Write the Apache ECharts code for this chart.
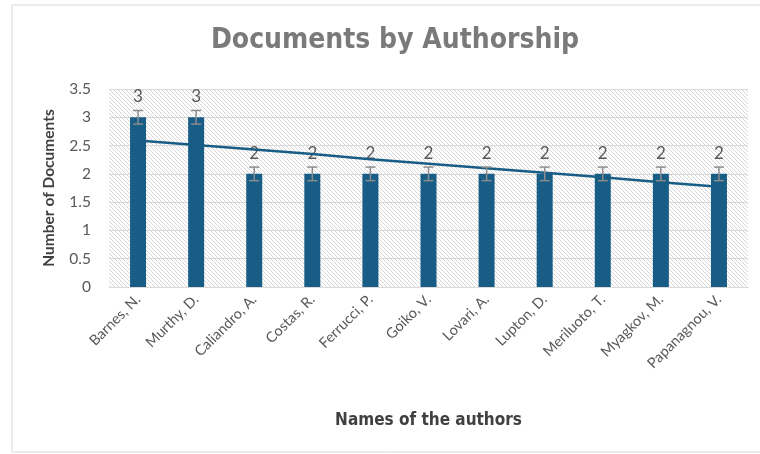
<!DOCTYPE html>
<html><head><meta charset="utf-8">
<script src="https://cdn.jsdelivr.net/npm/echarts@6/dist/echarts.min.js"></script>
<style>html,body{margin:0;padding:0;background:#fff;}#c{width:760px;height:454px;}</style>
</head><body><div id="c"></div>
<script>
var authors = ['Barnes, N.','Murthy, D.','Caliandro, A.','Costas, R.','Ferrucci, P.','Goiko, V.','Lovari, A.','Lupton, D.','Meriluoto, T.','Myagkov, M.','Papanagnou, V.'];
var documents = [3,3,2,2,2,2,2,2,2,2,2];
var errors = [0.12,0.12,0.12,0.12,0.12,0.12,0.12,0.12,0.12,0.12,0.12];
var trend = [2.59,2.51,2.43,2.35,2.26,2.18,2.10,2.02,1.94,1.85,1.77];
var yTicks = {min:0,max:3.5,interval:0.5};

var pc = document.createElement('canvas');
var s = 4; pc.width = s; pc.height = s;
var g = pc.getContext('2d');
g.fillStyle = '#ffffff'; g.fillRect(0,0,s,s);
g.strokeStyle = '#d6d6d6'; g.lineWidth = 1;
for (var k=-1;k<=1;k++){ g.beginPath(); g.moveTo(k*s,0); g.lineTo(k*s+s,s); g.stroke(); }

var chart = echarts.init(document.getElementById('c'));
var errData = documents.map(function(v,i){return [i, v-errors[i], v+errors[i]];});
chart.setOption({
  animation:false,
  backgroundColor:'#ffffff',
  title:{text:'Documents by Authorship',left:390,textAlign:'center',top:22,
    textStyle:{fontFamily:'Liberation Sans Narrow, DejaVu Sans Condensed, Arial',fontSize:28,fontWeight:'bold',color:'#7a7a7a'}},
  graphic:[{type:'rect',shape:{x:12,y:5,width:760,height:447},style:{fill:'none',stroke:'#d9d9d9',lineWidth:1},silent:true,z:-1}],
  grid:{left:109,right:12,top:89,bottom:167,show:true,borderWidth:0,
    backgroundColor:{image:pc,repeat:'repeat'}},
  xAxis:{type:'category',data:authors,
    axisLine:{lineStyle:{color:'#d9d9d9'}},axisTick:{show:false},
    axisLabel:{rotate:45,interval:0,margin:10,fontFamily:'Lato, Arial',fontSize:14.5,color:'#595959'},
    name:'Names of the authors',nameLocation:'middle',nameGap:125,
    nameTextStyle:{fontFamily:'Liberation Sans Narrow, DejaVu Sans Condensed, Arial',fontSize:17,fontWeight:'bold',color:'#404040'}},
  yAxis:{type:'value',min:yTicks.min,max:yTicks.max,interval:yTicks.interval,
    axisLine:{show:false},axisTick:{show:false},
    splitLine:{lineStyle:{color:'#d9d9d9',width:1}},
    axisLabel:{fontFamily:'Lato, Arial',fontSize:15.5,color:'#595959',margin:18},
    name:'Number of Documents',nameLocation:'middle',nameGap:52,
    nameTextStyle:{fontFamily:'Lato, Arial',fontSize:15.5,fontWeight:'bold',color:'#404040'}},
  series:[
    {type:'bar',data:documents,barWidth:16,itemStyle:{color:'#175d86'},
      label:{show:true,position:'top',distance:12,fontFamily:'Lato, Arial',fontSize:17,color:'#595959'},z:2},
    {type:'custom',data:errData,z:4,
      renderItem:function(params,api){
        var x=api.value(0);
        var lo=api.coord([x,api.value(1)]), hi=api.coord([x,api.value(2)]);
        var w=5;
        var st={stroke:'#8c8c8c',lineWidth:1.5};
        return {type:'group',children:[
          {type:'line',shape:{x1:lo[0],y1:lo[1],x2:hi[0],y2:hi[1]},style:st},
          {type:'line',shape:{x1:lo[0]-w,y1:lo[1],x2:lo[0]+w,y2:lo[1]},style:st},
          {type:'line',shape:{x1:hi[0]-w,y1:hi[1],x2:hi[0]+w,y2:hi[1]},style:st}
        ]};
      }},
    {type:'line',data:trend,symbol:'none',lineStyle:{color:'#175d86',width:2.5},z:3}
  ]
});
</script></body></html>
